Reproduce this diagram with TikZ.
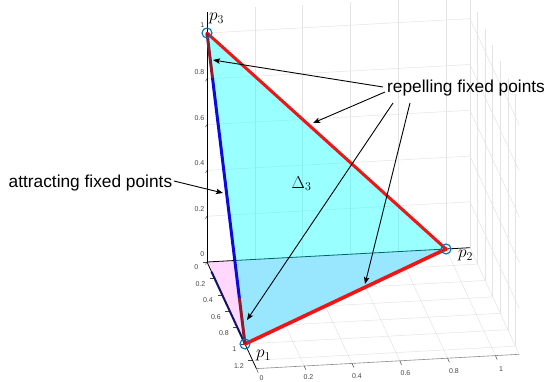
\documentclass[tikz,border=0pt]{standalone}
\usepackage{fontspec}
\setmainfont{Liberation Sans}
\usetikzlibrary{arrows.meta}
\definecolor{mblue}{RGB}{0,114,189}
\definecolor{cyanF}{RGB}{0,255,255}
\definecolor{pinkF}{RGB}{255,215,255}
\definecolor{redE}{RGB}{240,20,20}
\definecolor{blueE}{RGB}{10,10,220}
\definecolor{maroonE}{RGB}{140,28,48}
\definecolor{navyE}{RGB}{20,20,100}
\definecolor{gridc}{RGB}{228,228,228}
\definecolor{tickc}{RGB}{70,70,70}
\definecolor{axisc}{RGB}{140,140,140}
\begin{document}
\begin{tikzpicture}[x=1pt,y=1pt,
  gridline/.style={draw=gridc, line width=0.5pt},
  tickline/.style={draw=tickc, line width=0.5pt},
  ticklab/.style={font=\fontsize{7}{8}\selectfont, text=tickc, inner sep=0pt},
  lab/.style={font=\fontsize{17.3}{20}\selectfont, inner sep=0pt},
  mathlab/.style={font=\fontsize{17}{20}\selectfont, inner sep=0pt},
  callout/.style={draw=black, line width=0.9pt, -{Stealth[length=7pt,width=5.5pt,inset=1.5pt]}},
  mark circle/.style={draw=mblue, line width=1.1pt}]
\useasboundingbox (0,0) rectangle (548,-382);
\fill[white] (0,0) rectangle (548,-382);
\begin{scope}[shift={(207pt,-262pt)}, x={(38pt,-82pt)}, y={(239pt,13pt)}, z={(0pt,229pt)}]
  % back wall (x=0)
  \foreach \yy in {0.2,0.4,0.6,0.8,1.0,1.1} \draw[gridline] (0,\yy,0) -- (0,\yy,1.1);
  \foreach \zz in {0.2,0.4,0.6,0.8,1.0} \draw[gridline] (0,0,\zz) -- (0,1.1,\zz);
  % right wall (y=1.1)
  \foreach \xx in {0.2,0.4,0.6,0.8,1.0,1.2} \draw[gridline] (\xx,1.1,0) -- (\xx,1.1,1.1);
  \foreach \zz in {0.2,0.4,0.6,0.8,1.0} \draw[gridline] (0,1.1,\zz) -- (1.3,1.1,\zz);
  % floor (z=0)
  \foreach \xx in {0.2,0.4,0.6,0.8,1.0,1.2} \draw[gridline] (\xx,0,0) -- (\xx,1.1,0);
  \foreach \yy in {0.2,0.4,0.6,0.8,1.0} \draw[gridline] (0,\yy,0) -- (1.3,\yy,0);
  \draw[gridline] (0,1.1,0) -- (1.3,1.1,0);
  \draw[draw=axisc, line width=0.6pt] (1.3,0,0) -- (1.3,1.1,0);
  % ticks
  \foreach \zz in {0,0.2,0.4,0.6,0.8,1.0} \draw[tickline] (0,0,\zz) -- ++(-1.5pt,-2.5pt);
  \foreach \xx in {0,0.2,0.4,0.6,0.8,1.0,1.2} \draw[tickline] (\xx,0,0) -- ++(-4.5pt,0pt);
  \foreach \yy in {0,0.2,0.4,0.6,0.8,1.0} \draw[tickline] (1.3,\yy,0) -- ++(1.8pt,-4pt);
  % points
  \coordinate (O) at (0,0,0);
  \coordinate (p1) at (1,0,0);
  \coordinate (p2) at (0,1,0);
  \coordinate (p3) at (0,0,1);
  \coordinate (xend) at (1.3,0,0);
  \coordinate (yend) at (0,1.1,0);
  \coordinate (zend) at (0,0,1.09);
  \coordinate (nv) at (0.12,0,0);
  \coordinate (ma) at (0.145,0,0.855);
  \coordinate (mb) at (0.852,0,0.148);
  % floor triangle
  \fill[pinkF] (O) -- (p1) -- (p2) -- cycle;
  % axes
  \draw[black, line width=0.8pt] (O) -- (zend);
  \draw[black, line width=0.8pt] (O) -- (xend);
  \draw[black, line width=0.8pt] (O) -- (yend);
  \draw[navyE, line width=2pt] (nv) -- (p1);
  % simplex
  \fill[cyanF, fill opacity=0.4] (p1) -- (p2) -- (p3) -- cycle;
  \draw[redE, line width=3pt, line cap=round] (p3) -- (p2);
  \draw[redE, line width=3.6pt, line cap=round] (p1) -- (p2);
  \draw[blueE, line width=3pt] (ma) -- (mb);
  \draw[maroonE, line width=3pt] (p3) -- (ma);
  \draw[maroonE, line width=3pt] (mb) -- (p1);
  \draw[mark circle] (p1) circle (5pt);
  \draw[mark circle] (p2) circle (5pt);
  \draw[mark circle] (p3) circle (5pt);
\end{scope}
% tick labels z
\node[ticklab, anchor=east] (z10) at (204.5,-25) {1};
\node[ticklab, anchor=east] (z08) at (204.5,-72) {0.8};
\node[ticklab, anchor=east] (z06) at (204.5,-118) {0.6};
\node[ticklab, anchor=east] (z04) at (204.5,-163) {0.4};
\node[ticklab, anchor=east] (z02) at (204.5,-209) {0.2};
\node[ticklab, anchor=east] (z00) at (204.5,-254) {0};
% tick labels x
\node[ticklab, anchor=east] (x00) at (198.5,-267) {0};
\node[ticklab, anchor=east] (x02) at (205.5,-284) {0.2};
\node[ticklab, anchor=east] (x04) at (213,-300) {0.4};
\node[ticklab, anchor=east] (x06) at (221,-317) {0.6};
\node[ticklab, anchor=east] (x08) at (229,-333) {0.8};
\node[ticklab, anchor=east] (x10) at (236.5,-349) {1};
\node[ticklab, anchor=east] (x12) at (244,-366) {1.2};
% tick labels y
\node[ticklab] (y00) at (261.5,-378) {0};
\node[ticklab] (y02) at (308.5,-377.5) {0.2};
\node[ticklab] (y04) at (357,-376) {0.4};
\node[ticklab] (y06) at (405.5,-373.5) {0.6};
\node[ticklab] (y08) at (454,-371) {0.8};
\node[ticklab] (y10) at (501,-369) {1};
% math labels
\node[mathlab, anchor=base west] (lp3) at (209,-20.5) {$p_3$};
\node[mathlab, anchor=base west] (lp2) at (458,-257.5) {$p_2$};
\node[mathlab, anchor=base west] (lp1) at (256,-357.5) {$p_1$};
\node[mathlab, anchor=base west] (ldelta) at (291.5,-188.3) {$\Delta_3$};
% text labels
\node[lab, anchor=base west] (rep) at (387,-93) {repelling fixed points};
\node[lab, anchor=base west] (att) at (8.5,-187.5) {attracting fixed points};
% arrow coordinates
\coordinate (s1) at (383,-87);
\coordinate (s2) at (385,-92);
\coordinate (s3) at (393,-103);
\coordinate (s4) at (410,-103);
\coordinate (t1) at (213,-60);
\coordinate (t2) at (313,-123);
\coordinate (t3) at (247,-320);
\coordinate (t4) at (365,-284);
\coordinate (sa) at (174,-181);
\coordinate (ta) at (223,-193);
\draw[callout] (s1) -- (t1);
\draw[callout] (s2) -- (t2);
\draw[callout] (s3) -- (t3);
\draw[callout] (s4) -- (t4);
\draw[callout] (sa) -- (ta);
\end{tikzpicture}
\end{document}
